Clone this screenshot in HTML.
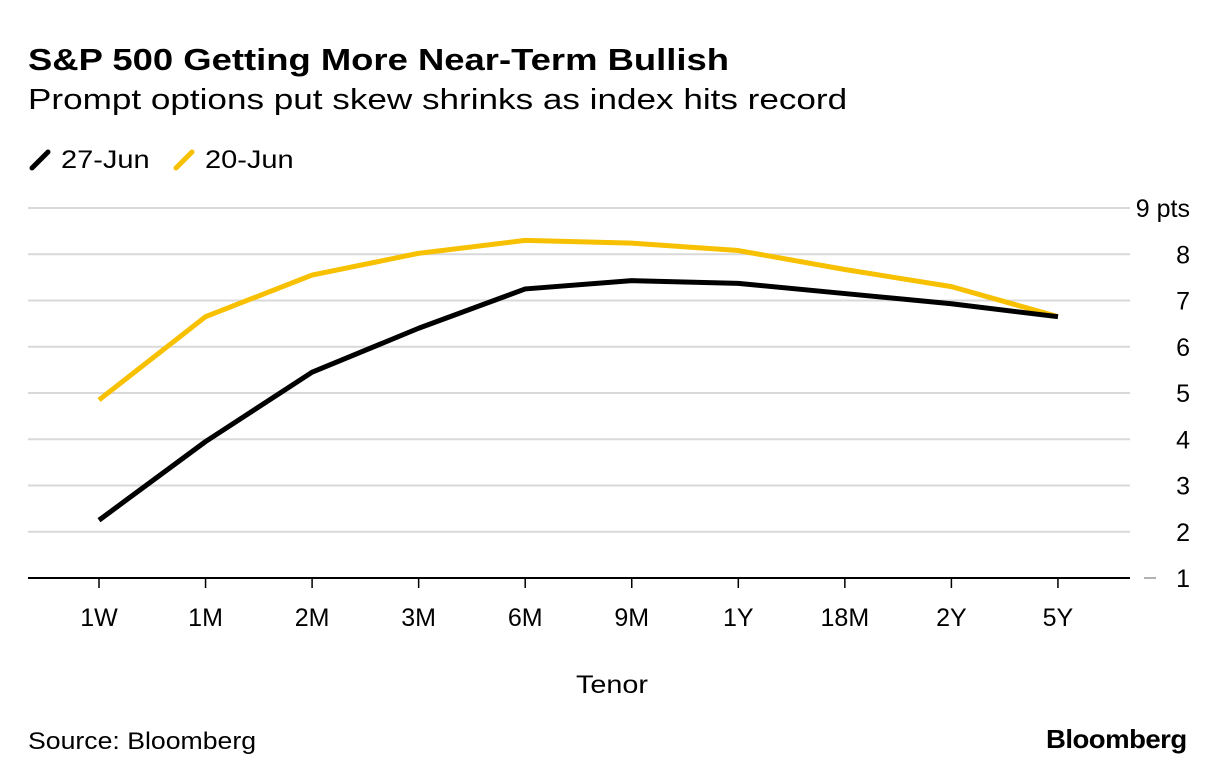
<!DOCTYPE html>
<html><head><meta charset="utf-8"><style>
body{margin:0;background:#fff;font-family:"Liberation Sans",sans-serif;}
#wrap{position:relative;width:1224px;height:782px;overflow:hidden;}
.t{position:absolute;white-space:nowrap;transform-origin:0 0;}
</style></head><body>
<div id="wrap">
<div class="t" style="left:28px;top:42px;font-size:31px;font-weight:bold;color:#000;transform:scaleX(1.175);">S&amp;P 500 Getting More Near-Term Bullish</div>
<div class="t" style="left:28px;top:84px;font-size:29px;color:#000;transform:scaleX(1.21);">Prompt options put skew shrinks as index hits record</div>
<div class="t" style="left:28px;top:146px;font-size:25px;"><svg width="26" height="26" style="vertical-align:-4px"><line x1="4" y1="22" x2="20" y2="6" stroke="#000" stroke-width="5" stroke-linecap="round"/></svg> <span style="display:inline-block;transform:scaleX(1.16);transform-origin:0 0;">27-Jun</span></div>
<div class="t" style="left:172px;top:146px;font-size:25px;"><svg width="26" height="26" style="vertical-align:-4px"><line x1="4" y1="22" x2="20" y2="6" stroke="#f7c000" stroke-width="5" stroke-linecap="round"/></svg> <span style="display:inline-block;transform:scaleX(1.16);transform-origin:0 0;">20-Jun</span></div>
<svg id="plot" width="1224" height="782" style="position:absolute;left:0;top:0"></svg>
<div class="t" style="left:576px;top:671px;font-size:25px;transform:scaleX(1.15);">Tenor</div>
<div class="t" style="left:28px;top:728px;font-size:24px;transform:scaleX(1.11);">Source: Bloomberg</div>
<div class="t" style="left:1046px;top:724px;font-size:26px;font-weight:bold;letter-spacing:-0.5px;transform:scaleX(1.06);">Bloomberg</div>
</div>
<script>
const categories=["1W","1M","2M","3M","6M","9M","1Y","18M","2Y","5Y"];
const series27=[2.25,3.95,5.45,6.4,7.25,7.43,7.37,7.15,6.93,6.65];
const series20=[4.85,6.65,7.55,8.02,8.3,8.24,8.08,7.67,7.3,6.65];
const yTicks=[1,2,3,4,5,6,7,8,9];
const yTickLabels=["1","2","3","4","5","6","7","8","9 pts"];
const svg=document.getElementById('plot');
const NS='http://www.w3.org/2000/svg';
function y(v){return 578-(v-1)*46.25;}
function x(i){return 99+i*106.55;}
function mk(t,a){const e=document.createElementNS(NS,t);for(const k in a)e.setAttribute(k,a[k]);svg.appendChild(e);return e;}
yTicks.forEach((v,i)=>{
  if(v>1){const g=mk('line',{x1:28,x2:1130,y1:y(v),y2:y(v),stroke:'#d9d9d9','stroke-width':2});
  
  }
  const t=mk('text',{x:1190,y:y(v)+9,'text-anchor':'end','font-size':25,'font-family':'Liberation Sans, sans-serif'});
  t.textContent=yTickLabels[i];
  
  
});
const dash=mk('line',{x1:1144,x2:1156,y1:578,y2:578,stroke:'#999','stroke-width':1.5});


const ax=mk('line',{x1:28,x2:1130,y1:578,y2:578,stroke:'#000','stroke-width':2});


categories.forEach((c,i)=>{
  const tk=mk('line',{x1:x(i),x2:x(i),y1:578,y2:588,stroke:'#000','stroke-width':1.5});
  
  
  const t=mk('text',{x:x(i),y:626,'text-anchor':'middle','font-size':25,'font-family':'Liberation Sans, sans-serif'});
  t.textContent=c;
  
  
});
function line(d,col,name){
  const p=mk('polyline',{points:d.map((v,i)=>x(i)+','+y(v)).join(' '),fill:'none',stroke:col,'stroke-width':5,'stroke-linejoin':'round'});
  
  
}
line(series20,'#f7c000','line-20-jun');
line(series27,'#000','line-27-jun');
</script>
</body></html>
